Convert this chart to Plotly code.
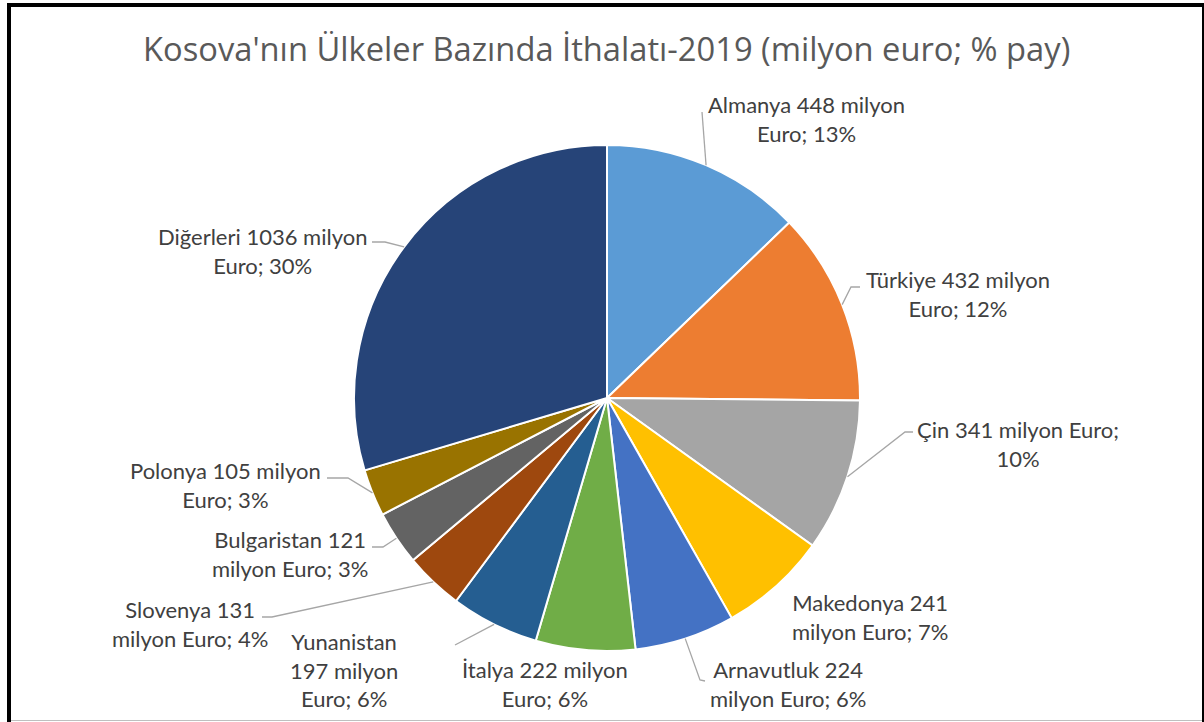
import math
import plotly.graph_objects as go

# ---- data ----
countries = ["Almanya", "Türkiye", "Çin", "Makedonya", "Arnavutluk", "İtalya",
             "Yunanistan", "Slovenya", "Bulgaristan", "Polonya", "Diğerleri"]
values = [448, 432, 341, 241, 224, 222, 197, 131, 121, 105, 1036]
unit_words = ["milyon", "Euro;"]
title_text = "Kosova'nın Ülkeler Bazında İthalatı-2019 (milyon euro; % pay)"

# ---- style / layout ----
colors = ["#5B9BD5", "#ED7D31", "#A5A5A5", "#FFC000", "#4472C4", "#70AD47",
          "#255E91", "#9E480E", "#636363", "#997300", "#264478"]
W, H = 1204, 722
CX, CY, R = 607, 398, 253          # pie centre / radius in pixels
line_breaks = [[3], [3], [4], [2], [2], [3], [1, 3], [2], [2], [3], [3]]
label_pos = [(806, 119), (958, 294), (1018, 444), (870, 617), (788, 684),
             (545, 684), (344, 670), (190, 624), (290, 554), (225, 485), (262, 251)]
leader_pts = [[(702, 112)], [(851, 287), (860, 287)], [(905, 432), (913, 432)], None,
              [(700, 680), (705, 681)], None, [(455, 645)],
              [(272, 617), (262, 617)], [(383, 547), (372, 547)],
              [(348, 478), (327, 478)], [(385, 242), (372, 242)]]

def px(x):
    return x / W

def py(y):
    return 1 - y / H

total = sum(values)

fig = go.Figure(go.Pie(
    labels=countries, values=values, sort=False, direction="clockwise", rotation=0,
    marker=dict(colors=colors, line=dict(color="white", width=2)),
    textinfo="none", hoverinfo="label+value+percent", showlegend=False,
    domain=dict(x=[px(CX - R), px(CX + R)], y=[py(CY + R), py(CY - R)]),
))

annotations = []
shapes = []
cum = 0
for i, (name, v) in enumerate(zip(countries, values)):
    pct = round(100 * v / total)
    words = [name, str(v)] + unit_words + [f"{pct}%"]
    lines, start = [], 0
    for b in line_breaks[i] + [len(words)]:
        lines.append(" ".join(words[start:b]))
        start = b
    lx, ly = label_pos[i]
    annotations.append(dict(
        x=px(lx), y=py(ly), xref="paper", yref="paper", text="<br>".join(lines),
        showarrow=False, xanchor="center", yanchor="middle", align="center",
        font=dict(family="Lato", size=22, color="#404040")))
    mid = (cum + v / 2) / total * 2 * math.pi
    cum += v
    if leader_pts[i]:
        ex = CX + R * math.sin(mid)
        ey = CY - R * math.cos(mid)
        path = f"M {px(ex)} {py(ey)}"
        for (qx, qy) in leader_pts[i]:
            path += f" L {px(qx)} {py(qy)}"
        shapes.append(dict(type="path", path=path, xref="paper", yref="paper",
                           line=dict(color="#A6A6A6", width=1.3)))

annotations.append(dict(
    x=px(606.5), y=py(48), xref="paper", yref="paper", text=title_text,
    showarrow=False, xanchor="center", yanchor="middle",
    font=dict(family="Open Sans", size=32.7, color="#595959")))

# frame
shapes += [
    dict(type="rect", xref="paper", yref="paper", x0=px(7), x1=px(11), y0=py(722), y1=py(3),
         fillcolor="black", line=dict(width=0)),
    dict(type="rect", xref="paper", yref="paper", x0=px(7), x1=px(1204), y0=py(7), y1=py(3),
         fillcolor="black", line=dict(width=0)),
    dict(type="rect", xref="paper", yref="paper", x0=px(1202), x1=px(1204), y0=py(722), y1=py(3),
         fillcolor="black", line=dict(width=0)),
    dict(type="line", xref="paper", yref="paper", x0=px(11), x1=px(1202), y0=py(720.5), y1=py(720.5),
         line=dict(color="#BFBFBF", width=1)),
]

fig.update_layout(
    width=W, height=H, margin=dict(l=0, r=0, t=0, b=0),
    paper_bgcolor="white", plot_bgcolor="white",
    annotations=annotations, shapes=shapes,
)

fig.write_html("out.html", config={"displayModeBar": False},
               post_script="document.body.style.margin='0';document.body.style.overflow='hidden';")
